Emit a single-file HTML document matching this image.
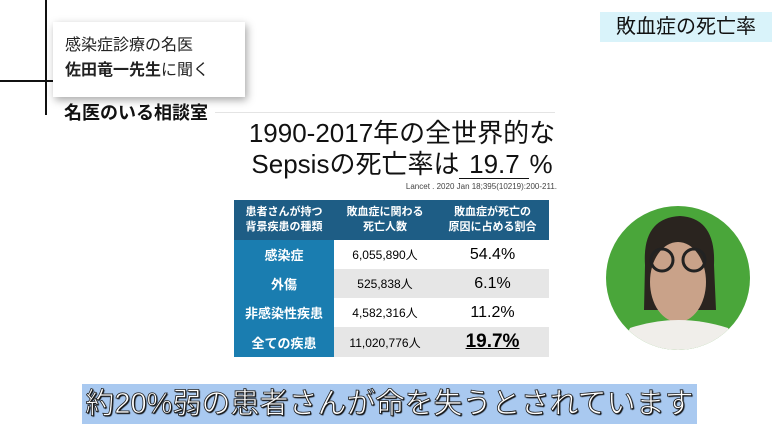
<!DOCTYPE html>
<html><head><meta charset="utf-8"><style>
body{margin:0;width:780px;height:438px;background:#fff;position:relative;overflow:hidden;font-family:"Liberation Sans","Noto Sans CJK JP",sans-serif;}
.a{position:absolute;}
table{border-collapse:collapse;}
td{padding:0;text-align:center;}
</style></head><body>
<div class="a" style="left:45px;top:0;width:2px;height:115px;background:#111"></div>
<div class="a" style="left:0;top:80px;width:55px;height:2px;background:#111"></div>
<div class="a" style="left:53px;top:22px;width:192px;height:75px;background:#fff;box-shadow:2px 3px 8px rgba(0,0,0,.35)"></div>
<div class="a" style="left:65px;top:33px;font-size:16px;line-height:25px;color:#222">感染症診療の名医<br><b>佐田竜一先生</b>に聞く</div>
<div class="a" style="left:64px;top:99px;font-size:18px;font-weight:bold;color:#111">名医のいる相談室</div>
<div class="a" style="left:215px;top:112px;width:340px;height:1px;background:#e4e4e4"></div>
<div class="a" style="left:200px;top:118px;width:404px;text-align:center;font-size:26px;line-height:31px;color:#111">1990-2017年の全世界的な<br>Sepsisの死亡率は<span style="display:inline-block;width:70px;border-bottom:1px solid #111;line-height:27px">19.7</span>%</div>
<div class="a" style="left:300px;top:182px;width:257px;text-align:right;font-size:8px;color:#444">Lancet . 2020 Jan 18;395(10219):200-211.</div>
<table class="a" style="left:234px;top:200px;width:315px;">
<tr style="height:40px;background:#1e5d85;color:#fff;font-weight:bold;font-size:11px;line-height:15px"><td style="width:100px">患者さんが持つ<br>背景疾患の種類</td><td style="width:102px">敗血症に関わる<br>死亡人数</td><td>敗血症が死亡の<br>原因に占める割合</td></tr>
<tr style="height:29px;background:#fff"><td style="background:#1a7db0;color:#fff;font-weight:bold;font-size:13px">感染症</td><td style="font-size:12px">6,055,890人</td><td style="font-size:16px">54.4%</td></tr>
<tr style="height:29px;background:#e6e6e6"><td style="background:#1a7db0;color:#fff;font-weight:bold;font-size:13px">外傷</td><td style="font-size:12px">525,838人</td><td style="font-size:16px">6.1%</td></tr>
<tr style="height:29px;background:#fff"><td style="background:#1a7db0;color:#fff;font-weight:bold;font-size:13px">非感染性疾患</td><td style="font-size:12px">4,582,316人</td><td style="font-size:16px">11.2%</td></tr>
<tr style="height:30px;background:#e6e6e6"><td style="background:#1a7db0;color:#fff;font-weight:bold;font-size:13px">全ての疾患</td><td style="font-size:12px">11,020,776人</td><td style="font-size:19px;font-weight:bold"><u>19.7%</u></td></tr>
</table>
<div class="a" style="left:600px;top:12px;width:172px;height:30px;background:#d9f3fa;font-size:20px;line-height:30px;text-align:center;color:#111">敗血症の死亡率</div>
<svg class="a" style="left:600px;top:200px" width="160" height="160">
<defs><clipPath id="c"><circle cx="78" cy="78" r="72"/></clipPath></defs>
<circle cx="78" cy="78" r="72" fill="#4aa63a"/>
<g clip-path="url(#c)">
<path d="M45 65 Q42 18 80 16 Q116 18 114 65 L116 110 L44 110 Z" fill="#2a241f"/>
<ellipse cx="78" cy="82" rx="28" ry="40" fill="#c9a289"/>
<circle cx="62" cy="60" r="11" fill="none" stroke="#222" stroke-width="3"/>
<circle cx="94" cy="60" r="11" fill="none" stroke="#222" stroke-width="3"/>
<path d="M20 150 L30 128 Q78 112 128 128 L140 150 Z" fill="#f0eeea"/>
</g>
</svg>
<div class="a" style="left:82px;top:384px;width:615px;height:40px;background:#a9c9f0"></div>
<div class="a" style="left:82px;top:384px;width:615px;height:40px;line-height:40px;text-align:center;font-size:29px;color:#fff;-webkit-text-stroke:0.8px #222;text-shadow:1px 1px 1px #000">約20%弱の患者さんが命を失うとされています</div>
</body></html>
